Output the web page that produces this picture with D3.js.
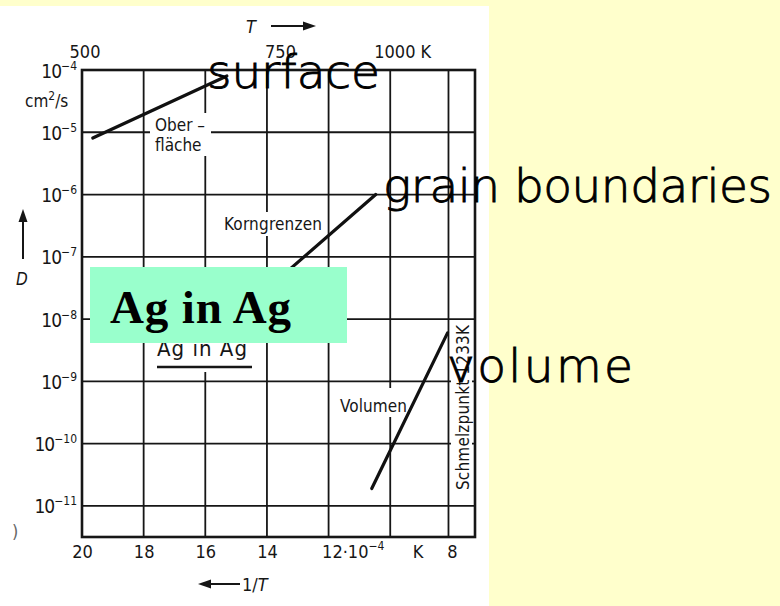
<!DOCTYPE html>
<html>
<head>
<meta charset="utf-8">
<script src="https://cdn.jsdelivr.net/npm/d3@7/dist/d3.min.js"></script>
<style>
  html, body { margin: 0; padding: 0; background: #ffffcc; }
  svg { display: block; }
</style>
</head>
<body>
<svg id="chart" width="780" height="606"></svg>
<script>
// Diffusion of silver in silver (Arrhenius plot): D in cm^2/s vs 1/T in 1e-4 1/K
const surfaceInvT = [19.65, 15.3];
const surfaceD = [8.1e-6, 8.0e-5];
const grainInvT = [13.6, 10.47];
const grainD = [4.5e-8, 1.0e-6];
const volumeInvT = [10.6, 8.14];
const volumeD = [1.9e-11, 6.0e-9];

const meltingPointK = 1233;
const invTGrid = [18, 16, 14, 12, 10];
const invTTickValues = [20, 18, 16, 14, 12, 8];
const invTTickLabels = ["20", "18", "16", "14", "12·10", "8"];
const tempTickValues = [500, 750, 1000];
const tempTickLabels = ["500", "750", "1000 K"];
const decadeExponents = [-4, -5, -6, -7, -8, -9, -10, -11];

const svg = d3.select("#chart");
const scanFont = "'DejaVu Sans Condensed', 'Liberation Sans Narrow', sans-serif";
const ink = "#161616";

// paper sheet
svg.append("rect").attr("x", 0).attr("y", 6).attr("width", 489).attr("height", 600).attr("fill", "#ffffff");

const x = d3.scaleLinear().domain([20, 7.25]).range([82, 475]);
const y = d3.scaleLog().domain([1e-4, Math.pow(10, -11.5)]).range([70, 537]);
const [x0, x1] = x.range();
const [y0, y1] = y.range();

// grid
const grid = svg.append("g").attr("stroke", ink).attr("stroke-width", 1.8);
grid.selectAll("line.h").data(decadeExponents.slice(1)).join("line")
  .attr("x1", x0).attr("x2", x1)
  .attr("y1", d => y(Math.pow(10, d))).attr("y2", d => y(Math.pow(10, d)));
grid.selectAll("line.v").data(invTGrid.concat([1e4 / meltingPointK])).join("line")
  .attr("y1", y0).attr("y2", y1)
  .attr("x1", d => x(d)).attr("x2", d => x(d));

// paper gaps where the curve names sit on the grid
const gaps = [
  [150, 113, 61, 43],
  [221, 212, 104, 24],
  [150, 343, 110, 29],
  [335, 388, 76, 29],
  [451, 321, 21, 173]
];
svg.append("g").selectAll("rect").data(gaps).join("rect")
  .attr("x", d => d[0]).attr("y", d => d[1]).attr("width", d => d[2]).attr("height", d => d[3])
  .attr("fill", "#ffffff");

// frame
svg.append("rect").attr("x", x0).attr("y", y0).attr("width", x1 - x0).attr("height", y1 - y0)
  .attr("fill", "none").attr("stroke", ink).attr("stroke-width", 2.6);

// left axis: decades of D
const yAxis = svg.append("g").attr("transform", `translate(${x0},0)`)
  .call(d3.axisLeft(y).tickValues(decadeExponents.map(e => Math.pow(10, e))).tickSize(0).tickFormat(() => ""));
yAxis.select(".domain").remove();
yAxis.selectAll(".tick text").each(function (d) {
  const e = Math.round(Math.log10(d));
  const t = d3.select(this).text(null)
    .attr("x", -5).attr("dy", null).attr("y", 7)
    .attr("font-family", scanFont).attr("font-size", 19).attr("fill", ink).attr("text-anchor", "end");
  t.append("tspan").text("10").attr("letter-spacing", -1);
  t.append("tspan").text("−" + (-e)).attr("font-size", 12).attr("dy", -8);
});

// bottom axis: 1/T
const xAxis = svg.append("g").attr("transform", `translate(0,${y1})`)
  .call(d3.axisBottom(x).tickValues(invTTickValues).tickSize(0)
    .tickFormat((d, i) => invTTickLabels[i]));
xAxis.select(".domain").remove();
xAxis.selectAll(".tick text")
  .attr("font-family", scanFont).attr("font-size", 18).attr("fill", ink)
  .attr("dy", null).attr("y", 21)
  .each(function (d) {
    if (d === 12) {
      d3.select(this).attr("text-anchor", "start").attr("x", -7);
      d3.select(this).append("tspan").text("−4").attr("font-size", 12).attr("dy", -8);
    }
  });
svg.append("text").attr("x", x(9.1)).attr("y", y1 + 21).attr("text-anchor", "middle")
  .attr("font-family", scanFont).attr("font-size", 18).attr("fill", ink).text("K");

// top axis: temperature
svg.append("g").selectAll("text").data(tempTickValues).join("text")
  .attr("x", (d, i) => x(1e4 / d) + [3, -7, -16][i])
  .attr("y", y0 - 12)
  .attr("text-anchor", (d, i) => i === 2 ? "start" : "middle")
  .attr("font-family", scanFont).attr("font-size", 18).attr("fill", ink)
  .text((d, i) => tempTickLabels[i]);

// axis titles and arrows
const titles = svg.append("g").attr("font-family", scanFont).attr("fill", ink);
titles.append("text").attr("x", 246).attr("y", 33).attr("font-size", 18).attr("font-style", "italic").text("T");
titles.append("text").attr("x", 16).attr("y", 285).attr("font-size", 17).attr("font-style", "italic").text("D");
const tb = titles.append("text").attr("x", 242).attr("y", 591).attr("font-size", 18);
tb.append("tspan").text("1/");
tb.append("tspan").text("T").attr("font-style", "italic");
titles.append("text").attr("x", 25).attr("y", 107).attr("font-size", 17)
  .html("cm<tspan font-size='12' dy='-7'>2</tspan><tspan dy='7'>/s</tspan>");
titles.append("text").attr("x", 12).attr("y", 538).attr("font-size", 18).attr("fill", "#666").text(")");

const arrows = svg.append("g").attr("stroke", ink).attr("stroke-width", 2).attr("fill", ink);
arrows.append("line").attr("x1", 271).attr("y1", 26).attr("x2", 305).attr("y2", 26);
arrows.append("path").attr("d", "M316,26 L303,21.5 L303,30.5 Z").attr("stroke", "none");
arrows.append("line").attr("x1", 23).attr("y1", 259).attr("x2", 23).attr("y2", 220);
arrows.append("path").attr("d", "M23,209 L18.5,222 L27.5,222 Z").attr("stroke", "none");
arrows.append("line").attr("x1", 208).attr("y1", 584).attr("x2", 240).attr("y2", 584);
arrows.append("path").attr("d", "M198,584 L211,579.5 L211,588.5 Z").attr("stroke", "none");

// curve names on the sheet
const names = svg.append("g").attr("font-family", scanFont).attr("fill", ink).attr("font-size", 17);
names.append("text").attr("x", 155).attr("y", 131).text("Ober –");
names.append("text").attr("x", 155).attr("y", 151).text("fläche");
names.append("text").attr("x", 224).attr("y", 230).attr("textLength", 98).text("Korngrenzen");
names.append("text").attr("x", 340).attr("y", 412).attr("textLength", 67).text("Volumen");
names.append("text").attr("x", 157).attr("y", 356).attr("font-size", 22).attr("textLength", 90).text("Ag in Ag");
names.append("line").attr("x1", 157).attr("x2", 252).attr("y1", 367).attr("y2", 367)
  .attr("stroke", ink).attr("stroke-width", 2.4);
names.append("text").attr("transform", "translate(469,490) rotate(-90)")
  .attr("textLength", 165).text("Schmelzpunkt 1233K");

// diffusion lines
const line = d3.line().x(d => x(d[0])).y(d => y(d[1]));
const series = [
  d3.zip(surfaceInvT, surfaceD),
  d3.zip(grainInvT, grainD),
  d3.zip(volumeInvT, volumeD)
];
svg.append("g").selectAll("path").data(series).join("path")
  .attr("d", line).attr("fill", "none").attr("stroke", "#111").attr("stroke-width", 3.2)
  .attr("stroke-linecap", "round");

// highlighted title box
svg.append("rect").attr("x", 90).attr("y", 267).attr("width", 257).attr("height", 76).attr("fill", "#99ffcc");
svg.append("text").attr("x", 110).attr("y", 323)
  .attr("font-family", "'Liberation Serif', 'Times New Roman', serif").attr("font-weight", "bold")
  .attr("font-size", 47).attr("textLength", 181).attr("fill", "#000").text("Ag in Ag");

// English names of the three paths
const eng = svg.append("g").attr("font-family", "'DejaVu Sans', Verdana, sans-serif")
  .attr("font-weight", 200).attr("font-size", 47).attr("fill", "#000")
  .attr("stroke", "#000").attr("stroke-width", 0.9);
eng.append("text").attr("x", 207).attr("y", 88).attr("textLength", 173).text("surface");
eng.append("text").attr("x", 383).attr("y", 202).attr("textLength", 389).text("grain boundaries");
eng.append("text").attr("x", 447).attr("y", 382).attr("textLength", 186).text("volume");
</script>
</body>
</html>
